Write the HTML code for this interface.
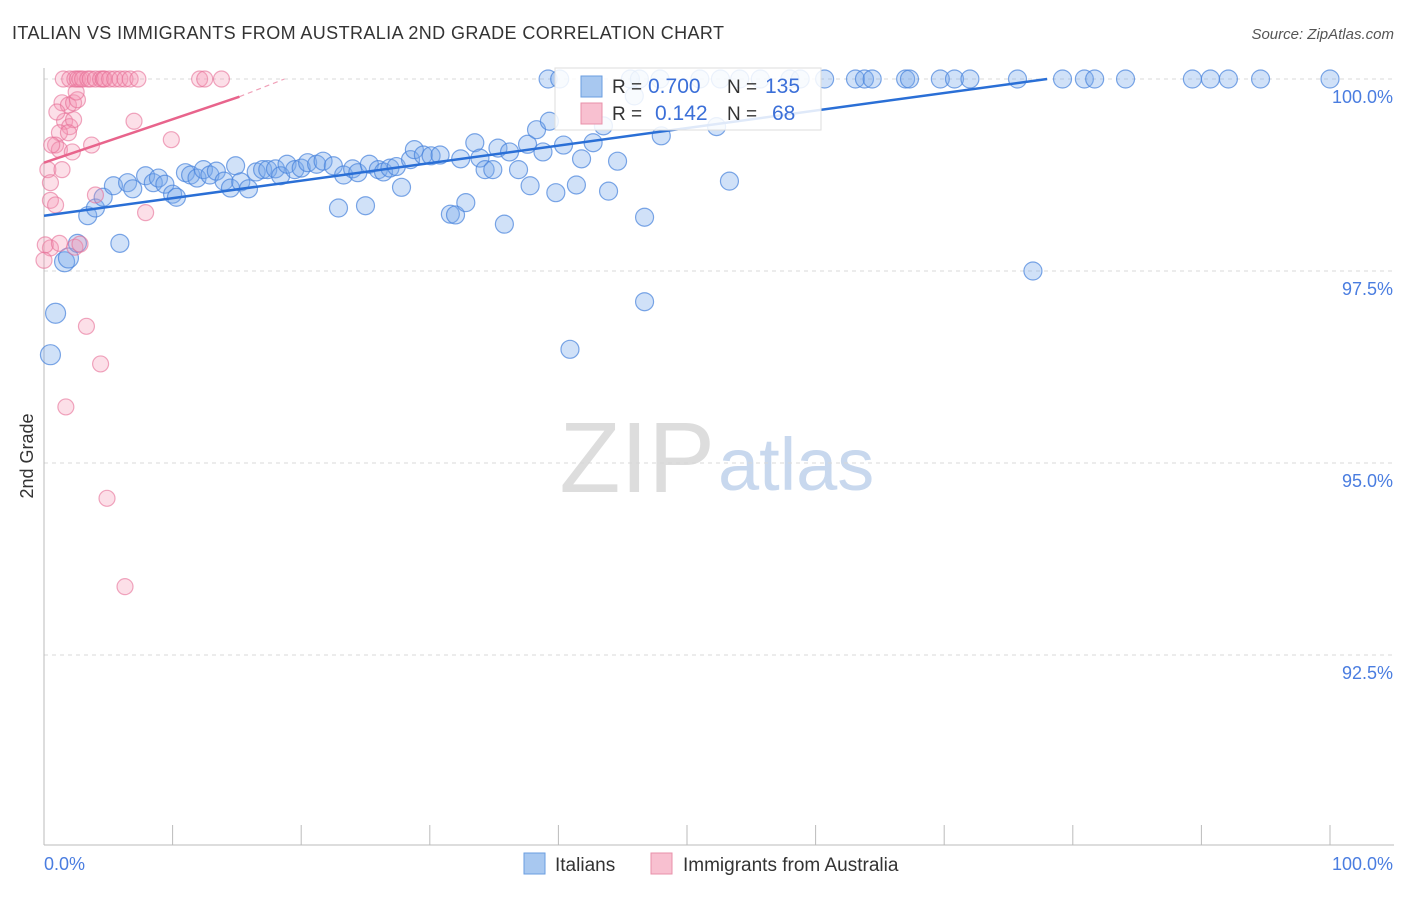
<!DOCTYPE html>
<html><head><meta charset="utf-8">
<style>
body{margin:0;background:#fff;font-family:"Liberation Sans",sans-serif;}
svg text{font-family:"Liberation Sans",sans-serif;}
</style></head>
<body>
<svg id="chart" width="1406" height="892" viewBox="0 0 1406 892" xmlns="http://www.w3.org/2000/svg">
<text x="12" y="39" font-size="18" fill="#333" textLength="712" lengthAdjust="spacing">ITALIAN VS IMMIGRANTS FROM AUSTRALIA 2ND GRADE CORRELATION CHART</text>
<text x="1394" y="39" font-size="15" fill="#555" font-style="italic" text-anchor="end">Source: ZipAtlas.com</text>
<text x="33" y="456" font-size="18" fill="#333" text-anchor="middle" transform="rotate(-90 33 456)">2nd Grade</text>
<text x="715" y="492" font-size="100" fill="#ddd" text-anchor="end" font-family="Liberation Serif">ZIP</text>
<text x="718" y="490" font-size="74" fill="#c8d8ee">atlas</text>
<g id="grid"></g>
<g id="axes"></g>
<g id="blue"></g>
<g id="pink"></g>
<g id="lines"></g>
<g>
<rect x="555" y="68" width="266" height="62" fill="#fff" fill-opacity="0.85" stroke="#ddd"/>
<rect x="581" y="76" width="21" height="21" fill="#a8c8f0" stroke="#6a9ee0"/>
<rect x="581" y="103" width="21" height="21" fill="#f8c0d0" stroke="#e890aa"/>
<text x="612" y="93" font-size="19" fill="#333">R =</text>
<text x="648" y="93" font-size="21" fill="#3b6fd8">0.700</text>
<text x="727" y="93" font-size="19" fill="#333">N =</text>
<text x="765" y="93" font-size="21" fill="#3b6fd8">135</text>
<text x="612" y="120" font-size="19" fill="#333">R =</text>
<text x="655" y="120" font-size="21" fill="#3b6fd8">0.142</text>
<text x="727" y="120" font-size="19" fill="#333">N =</text>
<text x="772" y="120" font-size="21" fill="#3b6fd8">68</text>
</g>
<g>
<rect x="524" y="853" width="21" height="21" fill="#a8c8f0" stroke="#6a9ee0"/>
<text x="555" y="871" font-size="19" fill="#333">Italians</text>
<rect x="651" y="853" width="21" height="21" fill="#f8c0d0" stroke="#e890aa"/>
<text x="683" y="871" font-size="19" fill="#333">Immigrants from Australia</text>
</g>
</svg>
<script>
const blueX=[0.5,0.9,1.6,1.9,2.6,3.4,4.0,4.6,5.4,5.9,6.5,6.9,7.9,8.5,8.9,9.4,10.0,10.3,11.0,11.4,11.9,12.4,12.9,13.4,14.0,14.5,14.9,15.3,15.9,16.5,17.0,17.4,18.0,18.4,18.9,19.5,20.0,20.5,21.2,21.7,22.5,22.9,23.3,24.0,24.4,25.0,25.3,26.0,26.4,26.9,27.4,27.8,28.5,28.8,29.5,30.1,30.8,31.6,32.0,32.4,32.8,33.5,33.9,34.3,34.9,35.3,35.8,36.2,36.9,37.6,37.8,38.3,38.8,39.3,39.8,40.4,40.9,41.4,41.8,42.7,43.5,43.9,44.6,45.9,46.7,46.7,48.0,52.3,53.3,76.9,
39.2,40.1,45.6,46.3,47.9,51.0,52.6,54.1,55.7,58.0,58.8,60.7,63.1,63.8,64.4,67.0,67.3,69.7,70.8,72.0,75.7,79.2,80.9,81.7,84.1,89.3,90.7,92.1,94.6,100];
const blueY=[96.41,96.95,97.62,97.67,97.86,98.22,98.32,98.46,98.61,97.86,98.65,98.57,98.74,98.65,98.71,98.63,98.50,98.46,98.78,98.75,98.71,98.82,98.75,98.80,98.67,98.58,98.87,98.66,98.57,98.79,98.82,98.82,98.83,98.74,98.89,98.82,98.84,98.91,98.89,98.93,98.87,98.32,98.75,98.83,98.78,98.35,98.89,98.82,98.79,98.84,98.86,98.59,98.95,99.08,99.01,99.00,99.01,98.24,98.23,98.96,98.39,99.17,98.97,98.82,98.82,99.10,98.11,99.05,98.82,99.15,98.61,99.34,99.05,99.45,98.52,99.14,96.48,98.62,98.96,99.17,99.39,98.54,98.93,99.78,98.20,97.10,99.26,99.38,98.67,97.50,
100,100,100,100,100,100,100,100,100,100,100,100,100,100,100,100,100,100,100,100,100,100,100,100,100,100,100,100,100,100];
const pinkX=[1.4,1.9,2.3,2.6,1.6,2.0,2.3,1.2,1.9,0.9,1.2,0.6,2.2,0.3,1.4,0.5,0.5,0.9,3.7,7.0,9.9,7.9,4.0,0.5,0.1,1.2,2.4,2.8,3.3,4.4,1.7,4.9,6.3,0.0,2.5,1.0,
1.5,2.0,2.4,2.6,2.8,3.0,3.4,3.6,4.0,4.4,4.6,4.7,5.1,5.5,5.9,6.3,6.7,7.3,12.1,12.5,13.8];
const pinkY=[99.69,99.66,99.69,99.73,99.45,99.38,99.47,99.30,99.30,99.14,99.08,99.14,99.05,98.82,98.82,98.65,98.42,98.36,99.14,99.45,99.21,98.26,98.49,97.80,97.84,97.86,97.81,97.85,96.78,96.29,95.73,94.54,93.39,97.64,99.83,99.57,
100,100,100,100,100,100,100,100,100,100,100,100,100,100,100,100,100,100,100,100,100];
const yTicks=[100,97.5,95,92.5];
const yTickLabels=["100.0%","97.5%","95.0%","92.5%"];
const xTicks=[0,10,20,30,40,50,60,70,80,90,100];
const blueTrend=[[0,98.22],[78,100]];
const pinkTrend=[[0,98.91],[15.2,99.77]];
const pinkTrendDash=[[15.2,99.77],[18.7,100]];

const NS="http://www.w3.org/2000/svg";
const sx=v=>44+v*12.86;
const sy=v=>79+(100-v)*76.8;
function mk(tag,attrs,parent){const e=document.createElementNS(NS,tag);for(const k in attrs)e.setAttribute(k,attrs[k]);parent.appendChild(e);return e;}
const grid=document.getElementById('grid'),axes=document.getElementById('axes');
yTicks.forEach((t,i)=>{
  const l=mk('line',{x1:44,x2:1394,y1:sy(t),y2:sy(t),stroke:'#d8d8d8','stroke-dasharray':'4,4'},grid);
  
  
  const tx=mk('text',{x:1393,y:sy(t)+24,'font-size':18,fill:'#4a7de0','text-anchor':'end'},axes);
  tx.textContent=yTickLabels[i];
  
  
});
const ax=mk('line',{x1:44,x2:44,y1:68,y2:845,stroke:'#bbb'},axes);


const bx=mk('line',{x1:44,x2:1394,y1:845,y2:845,stroke:'#bbb'},axes);


xTicks.forEach(t=>{
  const l=mk('line',{x1:sx(t),x2:sx(t),y1:825,y2:845,stroke:'#bbb'},axes);
  
  
});
const xl0=mk('text',{x:44,y:870,'font-size':18,fill:'#4a7de0'},axes);xl0.textContent='0.0%';


const xl1=mk('text',{x:1393,y:870,'font-size':18,fill:'#4a7de0','text-anchor':'end'},axes);xl1.textContent='100.0%';


const bg=document.getElementById('blue');
blueX.forEach((x,i)=>{
  const c=mk('circle',{cx:sx(x),cy:sy(blueY[i]),r:i<4?10:9,fill:'rgba(120,170,235,0.35)',stroke:'rgba(70,130,220,0.7)','stroke-width':1.2},bg);
  
  
});
const pg=document.getElementById('pink');
pinkX.forEach((x,i)=>{
  const c=mk('circle',{cx:sx(x),cy:sy(pinkY[i]),r:8,fill:'rgba(245,150,180,0.3)',stroke:'rgba(230,110,150,0.6)','stroke-width':1.2},pg);
  
  
});
const lg=document.getElementById('lines');
const bl=mk('line',{x1:sx(blueTrend[0][0]),y1:sy(blueTrend[0][1]),x2:sx(blueTrend[1][0]),y2:sy(blueTrend[1][1]),stroke:'#2a6fd6','stroke-width':2.5},lg);


const pl=mk('line',{x1:sx(pinkTrend[0][0]),y1:sy(pinkTrend[0][1]),x2:sx(pinkTrend[1][0]),y2:sy(pinkTrend[1][1]),stroke:'#e8648c','stroke-width':2.5},lg);


const pd=mk('line',{x1:sx(pinkTrendDash[0][0]),y1:sy(pinkTrendDash[0][1]),x2:sx(pinkTrendDash[1][0]),y2:sy(pinkTrendDash[1][1]),stroke:'#f0a0b8','stroke-width':1.2,'stroke-dasharray':'5,4'},lg);


</script>
</body></html>
